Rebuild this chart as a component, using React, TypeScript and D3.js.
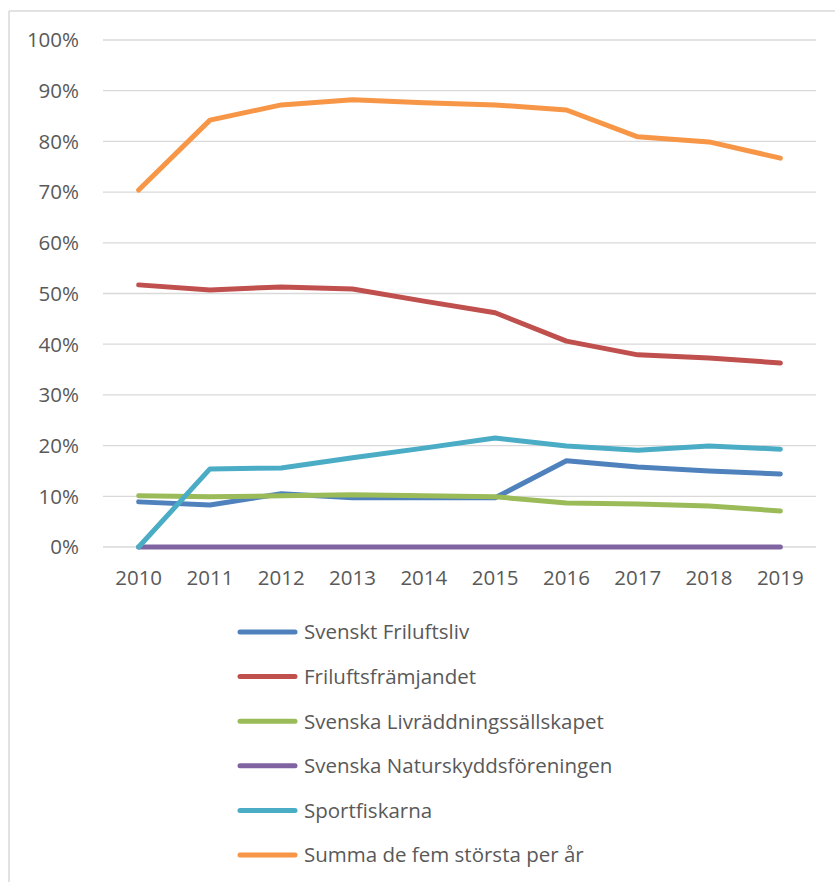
import React from "react";
import * as d3 from "d3";

const years = ["2010", "2011", "2012", "2013", "2014", "2015", "2016", "2017", "2018", "2019"];
const yTicks = [0, 0.1, 0.2, 0.3, 0.4, 0.5, 0.6, 0.7, 0.8, 0.9, 1.0];

const svensktFriluftsliv = [0.089, 0.083, 0.105, 0.097, 0.097, 0.097, 0.17, 0.158, 0.15, 0.144];
const friluftsframjandet = [0.517, 0.507, 0.513, 0.509, 0.485, 0.462, 0.406, 0.379, 0.373, 0.363];
const livraddning = [0.101, 0.099, 0.101, 0.103, 0.101, 0.099, 0.087, 0.085, 0.081, 0.071];
const naturskydd = [0, 0, 0, 0, 0, 0, 0, 0, 0, 0];
const sportfiskarna = [0, 0.154, 0.156, 0.176, 0.195, 0.215, 0.199, 0.191, 0.199, 0.193];
const summa = [0.704, 0.842, 0.872, 0.882, 0.876, 0.872, 0.862, 0.809, 0.799, 0.767];

const seriesNames = [
  "Svenskt Friluftsliv",
  "Friluftsfrämjandet",
  "Svenska Livräddningssällskapet",
  "Svenska Naturskyddsföreningen",
  "Sportfiskarna",
  "Summa de fem största per år",
];
const seriesValues = [svensktFriluftsliv, friluftsframjandet, livraddning, naturskydd, sportfiskarna, summa];
const seriesColors = ["#4f81bd", "#c0504d", "#9bbb59", "#8064a2", "#4bacc6", "#f79646"];

const W = 835;
const H = 882;
const FONT = "'Open Sans', 'Noto Sans', sans-serif";
const TEXT = "#595959";

export default function App() {
  const x = d3.scaleBand<string>().domain(years).range([103, 816]);
  const y = d3.scaleLinear().domain([0, 1]).range([547, 40]);
  const line = d3
    .line<number>()
    .x((_, i) => (x(years[i]) as number) + x.bandwidth() / 2)
    .y((d) => y(d));

  const legendX = 240;
  const legendY0 = 632;
  const legendStep = 44.6;

  return (
    <svg
      width={W}
      height={H}
      style={{ position: "fixed", left: 0, top: 0, background: "#fff" }}
      fontFamily={FONT}
    >
      <text x={139} y={-4} fontFamily="'Liberation Serif', serif" fontSize={17} fill="#000">
        g
      </text>
      <line x1={9} x2={W} y1={11} y2={11} stroke="#d9d9d9" strokeWidth={1.5} />
      <line x1={9} x2={9} y1={11} y2={H} stroke="#d9d9d9" strokeWidth={1.5} />

      {yTicks.map((t) => (
        <g key={t}>
          <line x1={103} x2={816} y1={y(t)} y2={y(t)} stroke="#d9d9d9" strokeWidth={1.3} />
          <text
            x={79}
            y={y(t)}
            dy="0.36em"
            textAnchor="end"
            fontSize={20.5}
            fill={TEXT}
          >
            {d3.format(".0%")(t)}
          </text>
        </g>
      ))}

      {years.map((yr) => (
        <text
          key={yr}
          x={(x(yr) as number) + x.bandwidth() / 2}
          y={578}
          dy="0.36em"
          textAnchor="middle"
          fontSize={20.5}
          fill={TEXT}
        >
          {yr}
        </text>
      ))}

      {seriesValues.map((vals, i) => (
        <path
          key={seriesNames[i]}
          d={line(vals) || ""}
          fill="none"
          stroke={seriesColors[i]}
          strokeWidth={5}
          strokeLinejoin="round"
          strokeLinecap="round"
        />
      ))}

      {seriesNames.map((name, i) => {
        const ly = legendY0 + i * legendStep;
        return (
          <g key={name}>
            <line
              x1={legendX}
              x2={legendX + 55}
              y1={ly}
              y2={ly}
              stroke={seriesColors[i]}
              strokeWidth={5}
              strokeLinecap="round"
            />
            <text x={304} y={ly} dy="0.36em" fontSize={20.5} fill={TEXT}>
              {name}
            </text>
          </g>
        );
      })}
    </svg>
  );
}
